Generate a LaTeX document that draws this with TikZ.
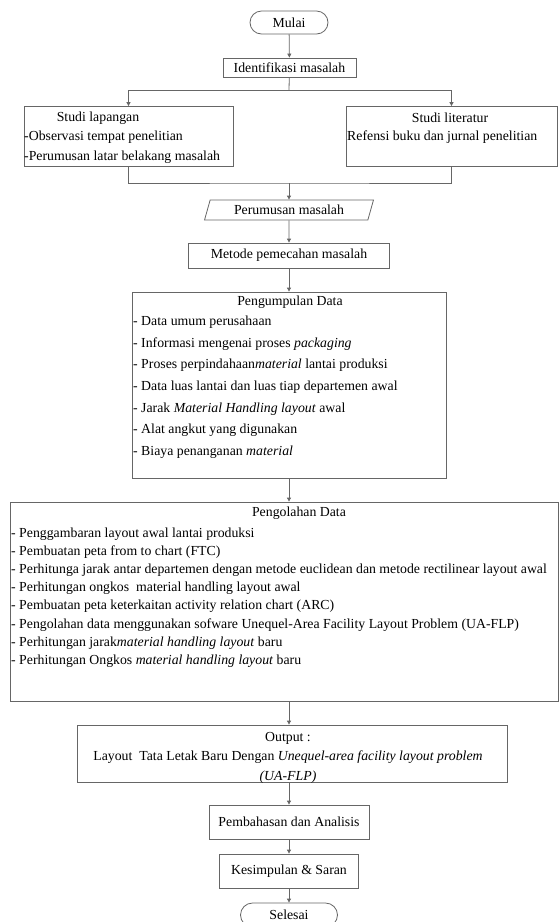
\documentclass[tikz,border=0pt]{standalone}
\usepackage{fontspec}
\setmainfont{Liberation Serif}
\usetikzlibrary{shapes.geometric,shapes.misc,arrows.meta}

\begin{document}
\begin{tikzpicture}[x=1pt,y=-1pt,font=\fontsize{13.8}{16}\selectfont,
  every node/.style={inner sep=0pt},
  box/.style={draw=black!60,line width=0.8pt,rectangle},
  term/.style={draw=black!60,line width=0.8pt,rounded rectangle},
  io/.style={draw=black!60,line width=0.8pt,trapezium,trapezium left angle=68,trapezium right angle=112,trapezium stretches=true},
  arr/.style={draw=black!60,line width=0.8pt,-{Triangle[length=4pt,width=4pt]}},
  ln/.style={draw=black!60,line width=0.8pt}]
            \useasboundingbox (0,0) rectangle (559,922);
            \draw (289,22.5) node[term,minimum width=78,minimum height=23](mulai){Mulai};
            \draw (289.5,67.5) node[box,minimum width=133,minimum height=19](idf){Identifikasi masalah};
            \draw (128.5,136.5) node[box,minimum width=209,minimum height=60](lap){};
            \draw (98,118) node(laptitle){Studi lapangan};
            \draw (24,131) node[anchor=north west,align=left,font=\fontsize{13.8}{20}\selectfont](laptxt){-Observasi tempat penelitian\\-Perumusan latar belakang masalah};
            \draw (451.5,136.5) node[box,minimum width=211,minimum height=60](lit){};
            \draw (450,118) node(littitle){Studi literatur};
            \draw (347,137) node[anchor=west](littxt){Refensi buku dan jurnal penelitian};
            \coordinate (br1) at (289,90);
            \coordinate (br2) at (289,183);
            \draw[arr] (mulai) -- (idf);
            \draw[ln] (idf) -- (br1);
            \draw[arr] (br1) -| (lap);
            \draw[arr] (br1) -| (lit);
            \draw[ln] (lap) |- (br2) -| (lit);
            \draw (289,210) node[io,minimum width=169,minimum height=20](per){Perumusan masalah};
            \draw[arr] (br2) -- (per);
            \draw (289,255.5) node[box,minimum width=201,minimum height=25](met){Metode pemecahan masalah};
            \draw[arr] (per) -- (met);
            \draw (289,385) node[box,minimum width=314,minimum height=186](kum){};
            \draw (290,302) node(kumtitle){Pengumpulan Data};
            \draw (133,316) node[anchor=north west,align=left,font=\fontsize{13.8}{21.6}\selectfont](kumtxt){- Data umum perusahaan\\- Informasi mengenai proses \textit{packaging}\\- Proses perpindahaan\textit{material} lantai produksi\\- Data luas lantai dan luas tiap departemen awal\\- Jarak \textit{Material Handling layout} awal\\- Alat angkut yang digunakan\\- Biaya penanganan \textit{material}};
            \draw[arr] (met) -- (kum);
            \draw (284,601.5) node[box,minimum width=548,minimum height=199](olah){};
            \draw (299,513) node(olahtitle){Pengolahan Data};
            \draw (11,527.5) node[anchor=north west,align=left,font=\fontsize{13.8}{18.15}\selectfont](olahtxt){- Penggambaran layout awal lantai produksi\\- Pembuatan peta from to chart (FTC)\\- Perhitunga jarak antar departemen dengan metode euclidean dan metode rectilinear layout awal\\- Perhitungan ongkos\ \ material handling layout awal\\- Pembuatan peta keterkaitan activity relation chart (ARC)\\- Pengolahan data menggunakan sofware Unequel-Area Facility Layout Problem (UA-FLP)\\- Perhitungan jarak\textit{material handling layout} baru\\- Perhitungan Ongkos \textit{material handling layout} baru};
            \draw[arr] (kum) -- (kum.south |- olah.north);
            \draw (292,753.5) node[box,minimum width=430,minimum height=57](out){};
            \draw (288,732) node[anchor=north,align=center,font=\fontsize{13.8}{19.5}\selectfont](outtxt){Output :\\Layout\ \ Tata Letak Baru Dengan \textit{Unequel-area facility layout problem}\\\textit{(UA-FLP)}};
            \draw[arr] (kum.south |- olah.south) -- (kum.south |- out.north);
            \draw (289,822) node[box,minimum width=160,minimum height=34](bhs){Pembahasan dan Analisis};
            \draw[arr] (kum.south |- out.south) -- (bhs);
            \draw (289,871) node[box,minimum width=139,minimum height=34](ksp){Kesimpulan \& Saran};
            \draw[arr] (bhs) -- (ksp);
            \draw (289,915) node[term,minimum width=97,minimum height=24](sls){Selesai};
            \draw[arr] (ksp) -- (sls);
        \end{tikzpicture}
\end{document}
